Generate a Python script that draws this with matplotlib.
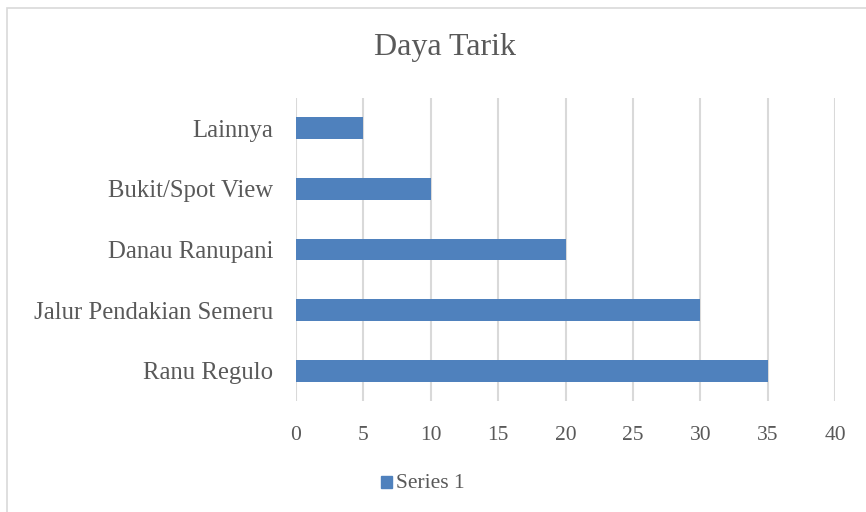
import matplotlib.pyplot as plt
from matplotlib.patches import Rectangle

categories = ["Ranu Regulo", "Jalur Pendakian Semeru", "Danau Ranupani",
              "Bukit/Spot View", "Lainnya"]
values = [35, 30, 20, 10, 5]
xticks = [0, 5, 10, 15, 20, 25, 30, 35, 40]

plt.rcParams['font.family'] = ['Liberation Serif', 'DejaVu Serif']
txt = '#595959'
grid = '#D9D9D9'

fig = plt.figure(figsize=(8.66, 5.12), dpi=100)
# chart border (clipped at right/bottom like the source)
fig.patches.append(Rectangle((7/866, -0.05), 1.0, 1 - 8/512 + 0.05,
                             transform=fig.transFigure, fill=False,
                             edgecolor=grid, linewidth=1.2))

ax = fig.add_axes([296/866, 1 - 401/512, (835 - 296)/866, (401 - 98)/512])
ax.barh(range(len(categories)), values, height=0.36, color='#4F81BD', zorder=3)
ax.set_yticks(range(len(categories)))
ax.set_yticklabels(categories, fontsize=17.8)
ax.set_ylim(-0.5, 4.5)
ax.set_xlim(0, 40)
ax.set_xticks(xticks)
ax.grid(axis='x', color=grid, linewidth=1.5, zorder=0)
for s in ax.spines.values():
    s.set_visible(False)
ax.tick_params(axis='both', length=0, labelsize=15.5, labelcolor=txt)
ax.tick_params(axis='y', labelsize=17.8)
ax.tick_params(axis='x', pad=18)
ax.tick_params(axis='y', pad=16.5)

fig.text(445/866, 1 - 47/512, "Daya Tarik", ha='center', va='center',
         fontsize=23, color=txt)

fig.patches.append(Rectangle((381/866, 1 - 488/512), 11/866, 12/512,
                             transform=fig.transFigure, color='#4F81BD'))
fig.text(396/866, 1 - 483/512, "Series 1", ha='left', va='center',
         fontsize=15.5, color=txt)

fig.savefig('out.png', dpi=100)
